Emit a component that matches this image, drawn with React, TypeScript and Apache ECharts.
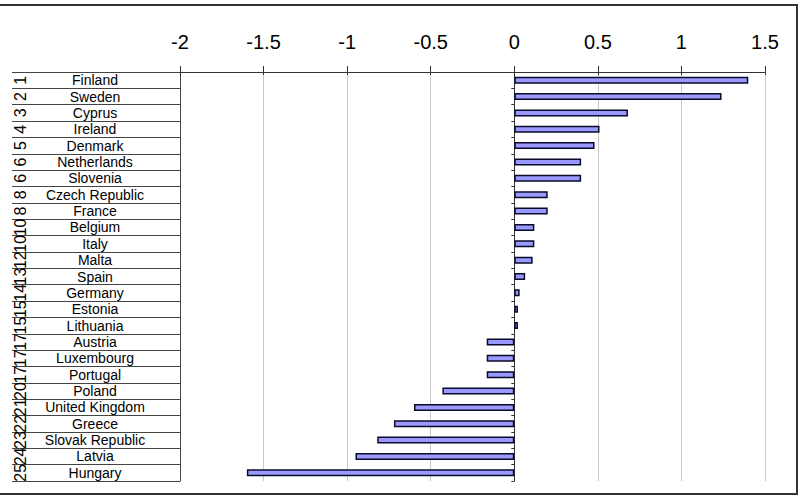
import React, { useEffect, useRef } from "react";
import * as echarts from "echarts";

const countries = [
  "Finland", "Sweden", "Cyprus", "Ireland", "Denmark", "Netherlands", "Slovenia",
  "Czech Republic", "France", "Belgium", "Italy", "Malta", "Spain", "Germany",
  "Estonia", "Lithuania", "Austria", "Luxembourg", "Portugal", "Poland",
  "United Kingdom", "Greece", "Slovak Republic", "Latvia", "Hungary",
];
const ranks = [
  "1", "2", "3", "4", "5", "6", "6", "8", "8", "10", "10", "12", "13", "14",
  "15", "15", "17", "17", "17", "20", "21", "22", "23", "24", "25",
];
const values = [
  1.40, 1.24, 0.68, 0.51, 0.48, 0.40, 0.40, 0.20, 0.20, 0.12, 0.12, 0.11, 0.065,
  0.032, 0.022, 0.022, -0.165, -0.165, -0.165, -0.43, -0.60, -0.72, -0.82, -0.95, -1.60,
];
const xMin = -2;
const xMax = 1.5;
const xStep = 0.5;

export default function App() {
  const ref = useRef<HTMLDivElement>(null);
  useEffect(() => {
    if (!ref.current) return;
    const chart = echarts.init(ref.current, null, { renderer: "svg" });
    const font = "'Liberation Sans', Arial, sans-serif";
    chart.setOption({
      animation: false,
      backgroundColor: "#ffffff",
      grid: { left: 180, right: 37, top: 72, bottom: 17, containLabel: false },
      xAxis: [
        {
          type: "value",
          position: "top",
          min: xMin,
          max: xMax,
          interval: xStep,
          axisLine: { show: true, lineStyle: { color: "#333", width: 1 } },
          axisTick: { show: true, length: 6, lineStyle: { color: "#333" } },
          axisLabel: {
            show: true,
            fontFamily: font,
            fontSize: 20,
            color: "#000",
            margin: 20,
          },
          splitLine: { show: true, lineStyle: { color: "#c8c8c8", width: 1 } },
        },
        {
          type: "value",
          position: "top",
          min: xMin,
          max: xMax,
          interval: xStep,
          axisLine: { show: false },
          axisTick: { show: true, inside: true, length: 3, lineStyle: { color: "#333" } },
          axisLabel: { show: false },
          splitLine: { show: false },
        },
      ],
      yAxis: [
        {
          type: "category",
          data: countries,
          inverse: true,
          axisLine: { show: true, onZero: true, lineStyle: { color: "#333" } },
          axisTick: { show: true, interval: 0, length: 3, lineStyle: { color: "#333" } },
          axisLabel: { show: false },
          splitLine: { show: false },
        },
        {
          type: "category",
          data: countries,
          inverse: true,
          position: "left",
          axisLine: { show: true, onZero: false, lineStyle: { color: "#444" } },
          axisTick: { show: true, interval: 0, length: 168, lineStyle: { color: "#444" } },
          axisLabel: {
            show: true,
            interval: 0,
            align: "center",
            verticalAlign: "middle",
            margin: 85,
            fontFamily: font,
            fontSize: 14,
            color: "#000",
          },
          splitLine: { show: false },
        },
        {
          type: "category",
          data: ranks.map((r, i) => r + "\u200b".repeat(i)),
          inverse: true,
          position: "left",
          axisLine: { show: false, onZero: false },
          axisTick: { show: false },
          axisLabel: {
            show: true,
            interval: 0,
            rotate: 90,
            align: "center",
            verticalAlign: "middle",
            margin: 160,
            fontFamily: font,
            fontSize: 16,
            color: "#000",
            formatter: (v: string) => v.replace(/\u200b/g, ""),
          },
          splitLine: { show: false },
        },
      ],
      series: [
        {
          type: "bar",
          xAxisIndex: 0,
          yAxisIndex: 0,
          data: values,
          barWidth: 7,
          itemStyle: { color: "#9999ff", borderColor: "#0a0a2a", borderWidth: 1.5 },
        },
      ],
      graphic: [
        {
          type: "rect",
          shape: { x: -2, y: 5, width: 799, height: 489 },
          style: { fill: "none", stroke: "#333", lineWidth: 2 },
          silent: true,
        },
      ],
    });
    return () => chart.dispose();
  }, []);
  return <div ref={ref} style={{ width: 802, height: 498, position: "absolute", left: 0, top: 0 }} />;
}
